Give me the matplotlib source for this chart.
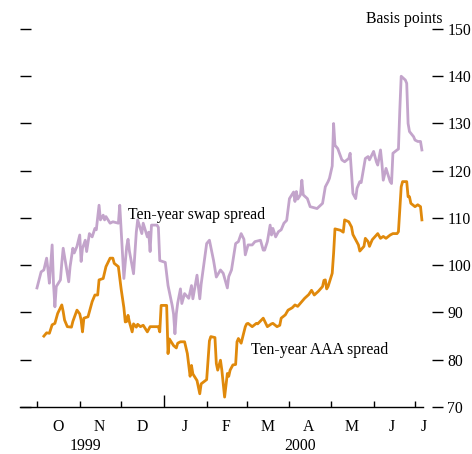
import matplotlib
matplotlib.use("Agg")
import matplotlib.pyplot as plt
import matplotlib.dates as mdates
import matplotlib.transforms as mtrans
import pandas as pd

plt.rcParams['font.family'] = ['Liberation Serif', 'DejaVu Serif']

swap_dates = ["1999-10-01","1999-10-04","1999-10-06","1999-10-08","1999-10-09","1999-10-10","1999-10-12","1999-10-13","1999-10-14","1999-10-15",
"1999-10-18","1999-10-19","1999-10-20","1999-10-21","1999-10-24","1999-10-25","1999-10-27","1999-10-28","1999-10-30","1999-11-01",
"1999-11-02","1999-11-03","1999-11-05","1999-11-06","1999-11-08","1999-11-10","1999-11-12","1999-11-13","1999-11-15","1999-11-16",
"1999-11-18","1999-11-19","1999-11-20","1999-11-23","1999-11-25","1999-11-29","1999-11-30","1999-12-03","1999-12-05","1999-12-06",
"1999-12-07","1999-12-10","1999-12-12","1999-12-13","1999-12-16","1999-12-17","1999-12-20","1999-12-21","1999-12-22","1999-12-23",
"1999-12-27","1999-12-28","1999-12-29","2000-01-02","2000-01-04","2000-01-07","2000-01-08","2000-01-09","2000-01-10","2000-01-11",
"2000-01-13","2000-01-14","2000-01-16","2000-01-19","2000-01-21","2000-01-22","2000-01-25","2000-01-27","2000-01-28","2000-02-01",
"2000-02-03","2000-02-06","2000-02-08","2000-02-11","2000-02-13","2000-02-16","2000-02-17","2000-02-19","2000-02-22","2000-02-24",
"2000-02-26","2000-02-28","2000-02-29","2000-03-02","2000-03-05","2000-03-07","2000-03-11","2000-03-13","2000-03-14","2000-03-16",
"2000-03-18","2000-03-19","2000-03-20","2000-03-22","2000-03-24","2000-03-26","2000-03-28","2000-03-30","2000-04-01","2000-04-04",
"2000-04-05","2000-04-06","2000-04-07","2000-04-09","2000-04-10","2000-04-11","2000-04-14","2000-04-16","2000-04-21","2000-04-25",
"2000-04-27","2000-04-29","2000-04-30","2000-05-02","2000-05-03","2000-05-04","2000-05-06","2000-05-09","2000-05-11","2000-05-14",
"2000-05-15","2000-05-17","2000-05-19","2000-05-20","2000-05-22","2000-05-23","2000-05-26","2000-05-28","2000-05-29","2000-06-01",
"2000-06-03","2000-06-04","2000-06-06","2000-06-07","2000-06-08","2000-06-10","2000-06-13","2000-06-14","2000-06-15","2000-06-18",
"2000-06-19","2000-06-20","2000-06-21","2000-06-24","2000-06-25","2000-06-26","2000-06-27","2000-06-30","2000-07-01","2000-07-03",
"2000-07-05","2000-07-06"]
swap_values = [95.2,98.6,99.0,101.5,99.0,96.2,104.3,96.0,91.2,95.5,
96.9,100.5,103.6,101.8,96.5,99.7,103.6,102.6,104.0,106.4,
100.8,103.6,105.3,102.9,106.7,106.0,107.8,107.5,112.7,109.6,
110.6,109.6,110.3,108.9,109.2,108.9,112.7,97.2,103.9,105.5,
103.0,98.2,107.0,109.6,106.7,108.9,106.0,107.0,102.9,108.5,
108.5,108.0,101.0,100.6,95.7,91.5,89.7,85.5,89.7,92.0,
95.0,91.9,94.0,93.0,95.7,92.9,97.9,92.9,96.0,104.6,
105.3,101.0,97.5,99.0,98.3,95.2,97.6,99.0,104.6,105.0,
106.7,105.5,102.2,104.3,104.3,105.0,105.3,103.2,103.2,105.0,
108.5,106.4,107.8,106.0,107.1,107.5,108.9,109.5,114.1,115.5,
113.5,115.6,114.0,114.9,118.0,114.9,114.1,112.4,112.0,113.1,
116.6,117.7,118.4,121.0,130.0,125.4,124.7,122.3,121.9,122.6,
123.7,115.2,114.1,116.3,117.7,117.5,122.6,123.0,122.3,124.1,
121.9,121.2,124.4,121.6,118.0,120.5,117.7,117.3,123.7,124.4,
124.6,132.9,140.0,139.2,138.5,130.0,128.3,127.2,126.5,126.2,
126.2,124.4]

aaa_dates = ["1999-10-06","1999-10-08","1999-10-10","1999-10-12","1999-10-14","1999-10-16","1999-10-19","1999-10-20","1999-10-21","1999-10-23",
"1999-10-26","1999-10-27","1999-10-30","1999-11-01","1999-11-02","1999-11-03","1999-11-04","1999-11-07","1999-11-10","1999-11-12",
"1999-11-14","1999-11-15","1999-11-18","1999-11-20","1999-11-23","1999-11-25","1999-11-26","1999-11-29","1999-12-01","1999-12-03",
"1999-12-04","1999-12-05","1999-12-06","1999-12-07","1999-12-09","1999-12-10","1999-12-12","1999-12-13","1999-12-15","1999-12-17",
"1999-12-20","1999-12-22","1999-12-28","1999-12-29","1999-12-30","2000-01-03","2000-01-04","2000-01-05","2000-01-08","2000-01-10",
"2000-01-11","2000-01-13","2000-01-16","2000-01-18","2000-01-20","2000-01-21","2000-01-22","2000-01-25","2000-01-27","2000-01-28",
"2000-02-01","2000-02-03","2000-02-04","2000-02-07","2000-02-08","2000-02-09","2000-02-11","2000-02-12","2000-02-14","2000-02-16",
"2000-02-17","2000-02-18","2000-02-20","2000-02-22","2000-02-23","2000-02-24","2000-02-26","2000-02-29","2000-03-01","2000-03-02",
"2000-03-05","2000-03-08","2000-03-09","2000-03-13","2000-03-16","2000-03-19","2000-03-20","2000-03-23","2000-03-25","2000-03-26",
"2000-03-29","2000-03-31","2000-04-03","2000-04-05","2000-04-07","2000-04-10","2000-04-12","2000-04-15","2000-04-17","2000-04-19",
"2000-04-22","2000-04-25","2000-04-26","2000-04-27","2000-04-28","2000-04-29","2000-05-02","2000-05-03","2000-05-04","2000-05-08",
"2000-05-10","2000-05-11","2000-05-14","2000-05-16","2000-05-17","2000-05-21","2000-05-22","2000-05-25","2000-05-26","2000-05-28",
"2000-05-29","2000-05-31","2000-06-03","2000-06-04","2000-06-06","2000-06-08","2000-06-10","2000-06-13","2000-06-15","2000-06-18",
"2000-06-19","2000-06-21","2000-06-22","2000-06-25","2000-06-26","2000-06-27","2000-06-28","2000-07-01","2000-07-03","2000-07-05",
"2000-07-06"]
aaa_values = [85.0,85.7,85.6,87.4,87.7,89.8,91.6,90.2,88.4,87.0,
86.9,88.1,90.5,89.7,88.4,85.9,88.8,89.1,92.3,93.7,
93.7,96.9,97.2,99.7,101.5,101.5,100.4,99.7,95.0,91.0,
88.0,88.1,89.4,88.0,85.9,87.6,86.9,87.5,87.0,87.3,
85.9,87.0,87.0,85.9,91.5,91.5,81.3,84.4,83.0,82.5,
83.5,83.8,83.8,81.3,76.5,78.8,77.0,75.6,72.8,74.9,
75.8,84.0,84.9,84.7,79.2,77.8,79.9,77.8,72.1,77.1,
76.5,77.8,78.9,79.0,83.8,84.5,83.5,87.0,87.6,87.7,
87.0,87.7,87.6,88.8,87.0,87.6,87.7,87.0,87.3,88.8,
89.5,90.5,91.0,91.6,91.3,92.3,93.0,93.8,94.7,93.7,
94.5,95.5,96.8,96.9,95.0,95.5,98.3,102.5,107.7,107.4,
107.0,109.6,109.2,108.1,106.5,104.3,103.0,104.0,105.7,105.0,
104.0,105.4,106.4,106.7,105.7,106.1,105.7,106.4,106.7,106.7,
107.1,116.6,117.7,117.7,114.5,114.5,113.1,112.4,112.8,112.4,
109.6]

y_ticks = [70, 80, 90, 100, 110, 120, 130, 140, 150]
month_starts = ["1999-10-01","1999-11-01","1999-12-01","2000-01-01","2000-02-01","2000-03-01",
                "2000-04-01","2000-05-01","2000-06-01","2000-07-01"]
month_label_pos = ["1999-10-16","1999-11-15","1999-12-16","2000-01-16","2000-02-15","2000-03-16",
                   "2000-04-15","2000-05-16","2000-06-14","2000-07-07"]
month_labels = ["O", "N", "D", "J", "F", "M", "A", "M", "J", "J"]
year_labels = ["1999", "2000"]
year_label_pos = ["1999-11-05", "2000-04-09"]

PURPLE = "#c3a4cb"
ORANGE = "#e0890b"
FS = 11.3

fig = plt.figure(figsize=(4.72, 4.54), dpi=100)
ax = fig.add_axes([20/472, 47/454, 423/472, 378/454])

sd = pd.to_datetime(swap_dates)
ad = pd.to_datetime(aaa_dates)
ax.plot(sd, swap_values, color=PURPLE, lw=2.0, solid_joinstyle='round')
ax.plot(ad, aaa_values, color=ORANGE, lw=2.0, solid_joinstyle='round')

x0 = mdates.date2num(pd.Timestamp("1999-10-01")) - 12.3
x1 = mdates.date2num(pd.Timestamp("1999-10-01")) + 294.3
ax.set_xlim(x0, x1)
ax.set_ylim(70, 150)

for s in ["top", "left", "right"]:
    ax.spines[s].set_visible(False)
ax.spines["bottom"].set_bounds(x0, mdates.date2num(pd.Timestamp("2000-07-07")))
ax.spines["bottom"].set_linewidth(1.0)

ax.set_yticks(y_ticks)
ax.yaxis.set_ticks_position('both')
ax.tick_params(axis='y', direction='in', length=7.6, width=1.0,
               labelleft=False, labelright=True, labelsize=FS, pad=3)

ms = mdates.date2num(pd.to_datetime(month_starts))
ax.set_xticks(ms)
ax.set_xticks(mdates.date2num(pd.to_datetime(month_label_pos)), minor=True)
ax.set_xticklabels([""] * len(ms))
ax.set_xticklabels(month_labels, minor=True)
ax.tick_params(axis='x', which='major', direction='in', length=4.3, width=1.0)
ax.tick_params(axis='x', which='minor', length=0, labelsize=FS, pad=8.5)
for t, d in zip(ax.xaxis.get_major_ticks(), pd.to_datetime(month_starts)):
    if d.month == 1:
        t.tick1line.set_markersize(8.6)

trans = mtrans.blended_transform_factory(ax.transData, ax.transAxes)
for lab, pos in zip(year_labels, year_label_pos):
    ax.annotate(lab, xy=(mdates.date2num(pd.Timestamp(pos)), 0), xycoords=trans,
                xytext=(0, -30.6), textcoords='offset points',
                ha='center', va='baseline', fontsize=FS)

ax.text(mdates.date2num(pd.Timestamp("1999-12-06")), 110.6, "Ten-year swap spread",
        fontsize=FS, va='center', ha='left')
ax.text(mdates.date2num(pd.Timestamp("2000-03-04")), 82.0, "Ten-year AAA spread",
        fontsize=FS, va='center', ha='left')
ax.annotate("Basis points", xy=(1, 1), xycoords='axes fraction',
            xytext=(0, 7), textcoords='offset points',
            ha='right', va='center', fontsize=FS)

fig.savefig("out.png", dpi=100)
